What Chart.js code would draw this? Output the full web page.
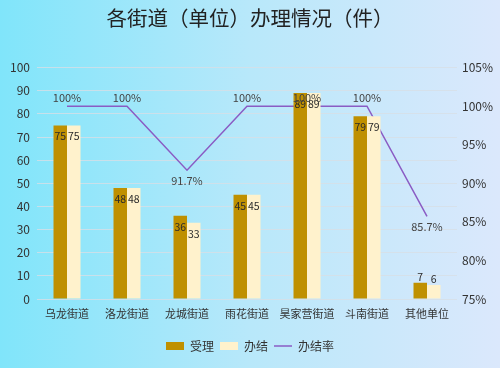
<!DOCTYPE html>
<html>
<head>
<meta charset="utf-8">
<script src="https://cdn.jsdelivr.net/npm/chart.js@4.4.0/dist/chart.umd.min.js"></script>
<style>
    html, body { margin: 0; padding: 0; }
    body {
        width: 500px;
        height: 368px;
        background: linear-gradient(to right, #80e5fa 0%, #b8e8fa 50%, #dbe8fc 100%);
    }
    #wrap { width: 500px; height: 368px; position: relative; }
</style>
</head>
<body>
<div id="wrap"><canvas id="handleChart"></canvas></div>
<script>
// Chart data
const categories = ['乌龙街道', '洛龙街道', '龙城街道', '雨花街道', '昊家营街道', '斗南街道', '其他单位'];
const accepted = [75, 48, 36, 45, 89, 79, 7];
const finished = [75, 48, 33, 45, 89, 79, 6];
const finishRate = [100, 100, 91.7, 100, 100, 100, 85.7];
const countTicks = [0, 10, 20, 30, 40, 50, 60, 70, 80, 90, 100];
const rateTicks = [75, 80, 85, 90, 95, 100, 105];

const fontFamily = '"Noto Sans CJK SC", "Noto Sans", sans-serif';
const textColor = '#333333';

// Draw value labels on bars and the line
const valueLabels = {
    id: 'valueLabels',
    afterDatasetsDraw(chart) {
        const ctx = chart.ctx;
        ctx.save();
        ctx.textAlign = 'center';
        chart.data.datasets.forEach(function(ds, di) {
            const meta = chart.getDatasetMeta(di);
            meta.data.forEach(function(el, i) {
                const v = ds.data[i];
                if (ds.type === 'line') {
                    ctx.font = '11px ' + fontFamily;
                    ctx.fillStyle = '#444444';
                    if (v >= 100) {
                        ctx.textBaseline = 'bottom';
                        ctx.fillText(v + '%', el.x, el.y - 3);
                    } else {
                        ctx.textBaseline = 'top';
                        ctx.fillText(v + '%', el.x, el.y + 5);
                    }
                } else {
                    ctx.font = '10.5px ' + fontFamily;
                    ctx.fillStyle = '#2a2a2a';
                    const h = el.base - el.y;
                    if (h > 24) {
                        ctx.textBaseline = 'middle';
                        ctx.fillText(v, el.x, el.y + 11);
                    } else {
                        ctx.textBaseline = 'bottom';
                        ctx.fillText(v, el.x, el.y - 1);
                    }
                }
            });
        });
        ctx.restore();
    }
};

const config = {
    data: {
        labels: categories,
        datasets: [{
            type: 'bar',
            label: '受理',
            data: accepted,
            backgroundColor: '#bf9000',
            yAxisID: 'y',
            categoryPercentage: 0.45,
            barPercentage: 1.0
        }, {
            type: 'bar',
            label: '办结',
            data: finished,
            backgroundColor: '#fff2cc',
            yAxisID: 'y',
            categoryPercentage: 0.45,
            barPercentage: 1.0
        }, {
            type: 'line',
            label: '办结率',
            data: finishRate,
            borderColor: '#8a5cc4',
            backgroundColor: '#8a5cc4',
            borderWidth: 1.5,
            pointRadius: 0,
            tension: 0,
            yAxisID: 'y1'
        }]
    },
    options: {
        responsive: true,
        maintainAspectRatio: false,
        animation: false,
        layout: {
            padding: { left: 0, right: 0, bottom: 6 }
        },
        plugins: {
            title: {
                display: true,
                text: '各街道（单位）办理情况（件）',
                color: '#222222',
                font: { family: fontFamily, size: 20.5, weight: 'normal' },
                padding: { top: 6, bottom: 37 }
            },
            legend: {
                position: 'bottom',
                labels: {
                    color: textColor,
                    font: { family: fontFamily, size: 12 },
                    usePointStyle: true,
                    pointStyleWidth: 18,
                    boxHeight: 8,
                    padding: 6,
                    generateLabels: function(chart) {
                        const items = Chart.defaults.plugins.legend.labels.generateLabels(chart);
                        items.forEach(function(it) {
                            it.pointStyle = it.datasetIndex === 2 ? 'line' : 'rect';
                        });
                        return items;
                    }
                }
            },
            tooltip: { enabled: false }
        },
        scales: {
            x: {
                grid: { display: false, drawTicks: false },
                border: { display: false },
                afterFit: function(axis) { axis.height = 35; },
                ticks: {
                    color: textColor,
                    padding: 8,
                    font: { family: fontFamily, size: 11 },
                    maxRotation: 0,
                    autoSkip: false
                }
            },
            y: {
                position: 'left',
                min: countTicks[0],
                max: countTicks[countTicks.length - 1],
                afterBuildTicks: function(axis) {
                    axis.ticks = countTicks.map(function(v) { return { value: v }; });
                },
                afterFit: function(axis) { axis.width = 37; },
                grid: { color: 'rgba(215, 222, 230, 0.8)', drawTicks: false },
                border: { display: false },
                ticks: {
                    color: textColor,
                    padding: 7,
                    font: { family: fontFamily, size: 12 }
                }
            },
            y1: {
                position: 'right',
                min: rateTicks[0],
                max: rateTicks[rateTicks.length - 1],
                afterBuildTicks: function(axis) {
                    axis.ticks = rateTicks.map(function(v) { return { value: v }; });
                },
                afterFit: function(axis) { axis.width = 43; },
                grid: { display: false, drawTicks: false },
                border: { display: false },
                ticks: {
                    color: textColor,
                    padding: 5,
                    font: { family: fontFamily, size: 12 },
                    callback: function(v) { return v + '%'; }
                }
            }
        }
    },
    plugins: [valueLabels]
};

new Chart(document.getElementById('handleChart'), config);
</script>
</body>
</html>
